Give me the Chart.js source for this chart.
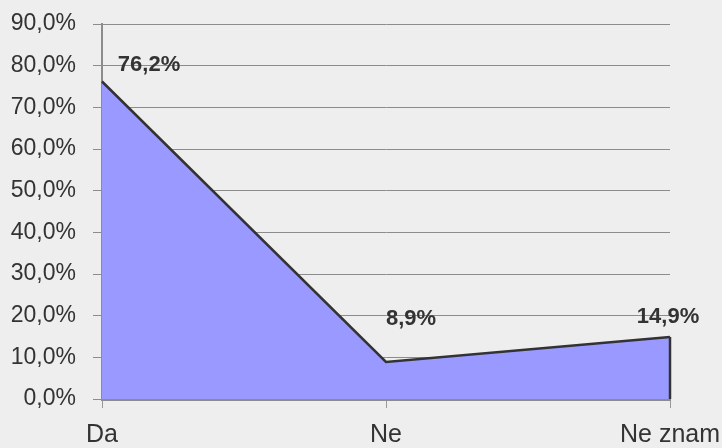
<!DOCTYPE html>
<html lang="sr">
<head>
<meta charset="UTF-8">
<title>Odgovori</title>
<script src="https://cdn.jsdelivr.net/npm/chart.js"></script>
<style>
  body { margin: 0; background: #eeeeee; }
  #grafico { width: 722px; height: 448px; }
</style>
</head>
<body>
<div id="grafico"><canvas id="myChartCanvas" width="722" height="448"></canvas></div>

<script>
// podaci
var kategorije = ['Da', 'Ne', 'Ne znam'];
var procenti = [76.2, 8.9, 14.9];
var oznake = ['76,2%', '8,9%', '14,9%'];

var fontNarrow = "'Liberation Sans Narrow', 'Arial Narrow', 'Liberation Sans', Arial, sans-serif";

// pomeraj oznaka od tacke (px)
var pomeraji = [[47, -17], [25, -43], [-2, -20]];

function formatProcenat(v) {
    return v.toFixed(1).replace('.', ',') + '%';
}

// oznake vrednosti + desna ivica povrsine
var oznakePlugin = {
    id: 'oznake',
    afterDatasetsDraw: function (chart) {
        var ctx = chart.ctx;
        var meta = chart.getDatasetMeta(0);
        var y0 = chart.scales.y.getPixelForValue(0);
        var last = meta.data[meta.data.length - 1];

        ctx.save();
        ctx.strokeStyle = '#333333';
        ctx.lineWidth = 2.5;
        ctx.beginPath();
        ctx.moveTo(last.x, last.y);
        ctx.lineTo(last.x, y0);
        ctx.stroke();

        ctx.fillStyle = '#333333';
        ctx.font = 'bold 22px ' + fontNarrow;
        ctx.textAlign = 'center';
        ctx.textBaseline = 'middle';
        for (var i = 0; i < meta.data.length; i++) {
            var p = meta.data[i];
            ctx.fillText(oznake[i], p.x + pomeraji[i][0], p.y + pomeraji[i][1]);
        }
        ctx.restore();
    }
};

var config = {
    type: 'line',
    data: {
        labels: kategorije,
        datasets: [{
            data: procenti,
            fill: 'origin',
            backgroundColor: '#9999ff',
            borderColor: '#333333',
            borderWidth: 2.5,
            pointRadius: 0,
            tension: 0
        }]
    },
    options: {
        responsive: false,
        animation: false,
        layout: { padding: { top: 24, right: 52, left: 0, bottom: 0 } },
        plugins: {
            legend: { display: false },
            tooltip: { enabled: false }
        },
        scales: {
            x: {
                offset: false,
                grid: { drawOnChartArea: false, color: '#999999', tickLength: 9 },
                border: { color: '#8c8c8c', width: 3 },
                ticks: {
                    color: '#333333',
                    padding: 12,
                    maxRotation: 0,
                    font: { family: fontNarrow, size: 25 }
                },
                afterFit: function (scale) {
                    scale.height = 49;
                    scale.paddingLeft = 0;
                    scale.paddingRight = 0;
                }
            },
            y: {
                min: 0,
                max: 90,
                grid: { color: '#8c8c8c', lineWidth: 1, tickLength: 9 },
                border: { color: '#8c8c8c', width: 2 },
                ticks: {
                    stepSize: 10,
                    color: '#333333',
                    padding: 17,
                    font: { family: fontNarrow, size: 23 },
                    callback: function (v) { return formatProcenat(v); }
                },
                afterFit: function (scale) {
                    scale.width = 102;
                    scale.paddingTop = 0;
                    scale.paddingBottom = 0;
                }
            }
        }
    },
    plugins: [oznakePlugin]
};

var ctx = document.getElementById('myChartCanvas').getContext('2d');
var myChart = new Chart(ctx, config);
</script>
</body>
</html>
